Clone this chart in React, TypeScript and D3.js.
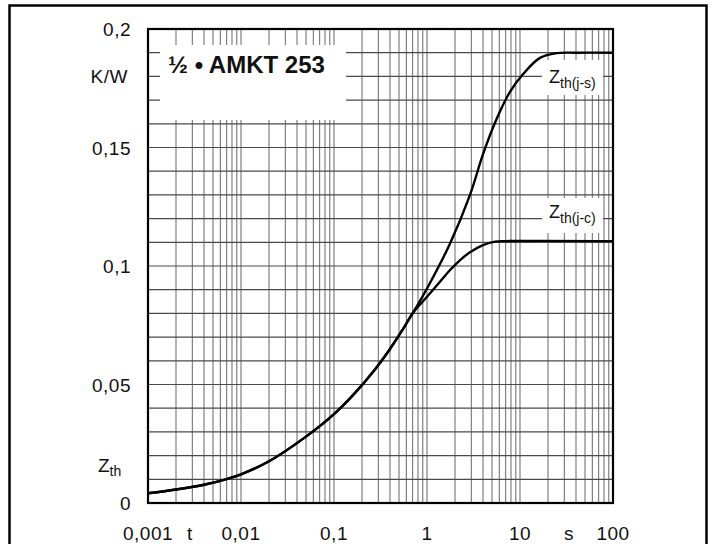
import React from "react";
import * as d3 from "d3";

// Shared part of both curves (t in s, Zth in K/W)
const sharedT = [0.001, 0.002, 0.004, 0.007, 0.01, 0.02, 0.05, 0.1, 0.16, 0.265, 0.4, 0.55, 0.7];
const sharedZ = [0.0041, 0.0057, 0.0077, 0.0101, 0.0121, 0.0176, 0.028, 0.0375, 0.0455, 0.0555, 0.065, 0.0733, 0.08];

// Zth(j-s) continuation
const jsT = [1.0, 1.77, 2.9, 4.03, 5.6, 7.8, 10.8, 16.4, 24.8, 40, 100];
const jsZ = [0.0905, 0.1095, 0.13, 0.1475, 0.162, 0.1735, 0.181, 0.1878, 0.1898, 0.19, 0.19];

// Zth(j-c) continuation
const jcT = [1.0, 1.4, 1.77, 2.3, 2.9, 4.0, 5.4, 7, 100];
const jcZ = [0.087, 0.0937, 0.0983, 0.1027, 0.1058, 0.1088, 0.1103, 0.1105, 0.1105];

const yTicks = [0, 0.05, 0.1, 0.15, 0.2];
const yTickLabels = ["0", "0,05", "0,1", "0,15", "0,2"];
const xTicks = [0.001, 0.01, 0.1, 1, 10, 100];
const xTickLabels = ["0,001", "0,01", "0,1", "1", "10", "100"];

const FONT = "'Liberation Sans', Arial, Helvetica, sans-serif";

export default function App() {
  const W = 717;
  const H = 544;
  const x = d3.scaleLog().domain([0.001, 100]).range([148, 613]);
  const y = d3.scaleLinear().domain([0, 0.2]).range([503, 29]);

  const toPts = (ts: number[], zs: number[]) => ts.map((t, i) => ({ t, z: zs[i] }));
  const shared = toPts(sharedT, sharedZ);
  const js = shared.concat(toPts(jsT, jsZ));
  const jc = shared.concat(toPts(jcT, jcZ));

  const line = d3
    .line<{ t: number; z: number }>()
    .x((d) => x(d.t))
    .y((d) => y(d.z))
    .curve(d3.curveCatmullRom.alpha(0.5));

  const hGrid = d3.range(1, 20).map((i) => i * 0.01);
  const vGrid: number[] = [];
  for (let e = -3; e <= 1; e++) {
    for (let k = 1; k <= 9; k++) {
      const v = k * Math.pow(10, e);
      if (v > 0.001 && v < 100) vGrid.push(v);
    }
  }

  const [x0, x1] = x.range();
  const [y0, y1] = y.range();
  const lbl = { fontSize: 19, letterSpacing: 0.5, fill: "#111" } as const;

  return (
    <svg
      width={W}
      height={H}
      style={{ position: "absolute", left: 0, top: 0, background: "#fff" }}
      fontFamily={FONT}
    >
      <rect x={0} y={0} width={W} height={H} fill="#fff" />
      {/* outer frame */}
      <rect x={9.5} y={5.5} width={697} height={600} fill="none" stroke="#000" strokeWidth={2.5} />

      {/* grid */}
      {vGrid.map((v, i) => (
        <line key={"v" + i} x1={x(v)} x2={x(v)} y1={y1} y2={y0} stroke="#808080" strokeWidth={1.2} />
      ))}
      {hGrid.map((v, i) => (
        <line key={"h" + i} x1={x0} x2={x1} y1={y(v)} y2={y(v)} stroke="#4a4a4a" strokeWidth={1.2} />
      ))}

      {/* white label boxes */}
      <rect x={160} y={45} width={186} height={75} fill="#fff" />
      <rect x={542} y={60} width={61} height={35} fill="#fff" />
      <rect x={542} y={198} width={61} height={35} fill="#fff" />

      {/* curves */}
      <path d={line(js) || ""} fill="none" stroke="#000" strokeWidth={2.4} />
      <path d={line(jc) || ""} fill="none" stroke="#000" strokeWidth={2.4} />

      {/* plot frame */}
      <rect x={x0} y={y1} width={x1 - x0} height={y0 - y1} fill="none" stroke="#000" strokeWidth={2.2} />

      {/* title */}
      <text x={168} y={73} fontSize={24} fontWeight="bold" fill="#111">
        ½ • AMKT 253
      </text>

      {/* curve labels */}
      <text x={549} y={83} fontSize={18} fill="#111">
        Z<tspan fontSize={14} dy={5}>th(j-s)</tspan>
      </text>
      <text x={549} y={218} fontSize={18} fill="#111">
        Z<tspan fontSize={14} dy={5}>th(j-c)</tspan>
      </text>

      {/* y tick labels */}
      {yTicks.map((v, i) => (
        <text key={"yl" + i} x={131} y={y(v) + 7} textAnchor="end" {...lbl}>
          {yTickLabels[i]}
        </text>
      ))}
      <text x={128} y={83} textAnchor="end" {...lbl}>
        K/W
      </text>
      <text x={98} y={472} fontSize={19} fill="#111">
        Z<tspan fontSize={14} dy={4}>th</tspan>
      </text>

      {/* x tick labels */}
      {xTicks.map((v, i) => (
        <text key={"xl" + i} x={x(v)} y={540} textAnchor="middle" {...lbl}>
          {xTickLabels[i]}
        </text>
      ))}
      <text x={190} y={540} textAnchor="middle" {...lbl}>
        t
      </text>
      <text x={569} y={540} textAnchor="middle" {...lbl}>
        s
      </text>
    </svg>
  );
}
